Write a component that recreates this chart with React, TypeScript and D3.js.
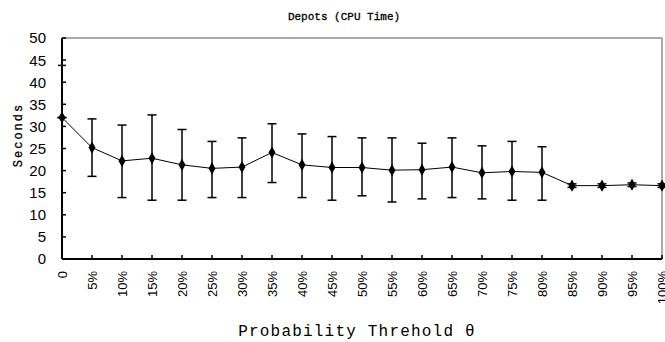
import React, { useEffect, useRef } from "react";
import * as d3 from "d3";

const categories = [
	"0", "5%", "10%", "15%", "20%", "25%", "30%", "35%", "40%", "45%", "50%",
	"55%", "60%", "65%", "70%", "75%", "80%", "85%", "90%", "95%", "100%",
];
const meanSeconds = [
	32.0, 25.2, 22.2, 22.8, 21.3, 20.5, 20.8, 24.1, 21.3, 20.7, 20.7,
	20.1, 20.2, 20.8, 19.5, 19.8, 19.6, 16.6, 16.6, 16.8, 16.6,
];
const upperSeconds = [
	32.0, 31.7, 30.3, 32.6, 29.3, 26.6, 27.4, 30.6, 28.3, 27.7, 27.4,
	27.4, 26.2, 27.4, 25.6, 26.6, 25.4, 17.0, 17.0, 17.2, 17.0,
];
const lowerSeconds = [
	32.0, 18.7, 13.9, 13.3, 13.3, 13.9, 13.9, 17.3, 13.9, 13.3, 14.3,
	12.9, 13.6, 13.9, 13.6, 13.3, 13.3, 16.2, 16.2, 16.4, 16.2,
];
const yTicks = [0, 5, 10, 15, 20, 25, 30, 35, 40, 45, 50];

export default function App() {
	const svgRef = useRef(null);

	useEffect(() => {
		const W = 665, H = 342;
		const margin = { top: 38, right: 3, bottom: 83, left: 62 };
		const width = W - margin.left - margin.right;
		const height = H - margin.top - margin.bottom;

		const svg = d3.select(svgRef.current).attr("width", W).attr("height", H);
		svg.selectAll("*").remove();

		const x = d3.scalePoint().domain(categories).range([0, width]);
		const y = d3.scaleLinear().domain([0, 50]).range([height, 0]);

		const g = svg.append("g").attr("transform", `translate(${margin.left},${margin.top})`);

		// frame: grey top and right, black axes
		g.append("line").attr("x1", 0).attr("x2", width).attr("y1", 0).attr("y2", 0)
			.attr("stroke", "#8c8c8c").attr("stroke-width", 1.5);
		g.append("line").attr("x1", width).attr("x2", width).attr("y1", 0).attr("y2", height)
			.attr("stroke", "#8c8c8c").attr("stroke-width", 1.5);

		// y axis
		const yAxis = g.append("g");
		yAxis.append("line").attr("x1", 0).attr("x2", 0).attr("y1", 0).attr("y2", height)
			.attr("stroke", "#000").attr("stroke-width", 2);
		yAxis.selectAll(".yt").data(yTicks).enter().append("line")
			.attr("x1", 0).attr("x2", 4)
			.attr("y1", (d) => y(d)).attr("y2", (d) => y(d))
			.attr("stroke", "#000").attr("stroke-width", 1.5);
		yAxis.selectAll(".yl").data(yTicks).enter().append("text")
			.attr("x", -16).attr("y", (d) => y(d)).attr("dy", "0.36em")
			.attr("text-anchor", "end")
			.attr("font-family", "Liberation Sans, Arial, sans-serif")
			.attr("font-size", 15)
			.text((d) => d);
		// stray mark on the axis near 45
		yAxis.append("line").attr("x1", -4).attr("x2", 4).attr("y1", y(43.8)).attr("y2", y(43.8))
			.attr("stroke", "#000").attr("stroke-width", 1.5);

		// x axis
		const xAxis = g.append("g").attr("transform", `translate(0,${height})`);
		xAxis.append("line").attr("x1", 0).attr("x2", width).attr("y1", 0).attr("y2", 0)
			.attr("stroke", "#000").attr("stroke-width", 2);
		xAxis.selectAll(".xt").data(categories.slice(1)).enter().append("line")
			.attr("x1", (d) => x(d)).attr("x2", (d) => x(d))
			.attr("y1", 0).attr("y2", -4)
			.attr("stroke", "#000").attr("stroke-width", 1.5);
		xAxis.selectAll(".xl").data(categories).enter().append("text")
			.attr("transform", (d) => `translate(${x(d)},12) rotate(-90)`)
			.attr("dy", "0.35em")
			.attr("text-anchor", "end")
			.attr("font-family", "Liberation Sans, Arial, sans-serif")
			.attr("font-size", 13)
			.text((d) => d);

		// line through means
		const line = d3.line()
			.x((d, i) => x(categories[i]))
			.y((d) => y(d));
		g.append("path").datum(meanSeconds)
			.attr("fill", "none").attr("stroke", "#000").attr("stroke-width", 1)
			.attr("d", line);

		// error bars
		const bars = g.append("g").selectAll("g").data(categories).enter().append("g");
		bars.append("line")
			.attr("x1", (d) => x(d)).attr("x2", (d) => x(d))
			.attr("y1", (d, i) => y(upperSeconds[i])).attr("y2", (d, i) => y(lowerSeconds[i]))
			.attr("stroke", "#000").attr("stroke-width", 1.5);
		[upperSeconds, lowerSeconds].forEach((arr) => {
			bars.append("line")
				.attr("x1", (d) => x(d) - 4.5).attr("x2", (d) => x(d) + 4.5)
				.attr("y1", (d, i) => y(arr[i])).attr("y2", (d, i) => y(arr[i]))
				.attr("stroke", "#000").attr("stroke-width", 1.5);
		});

		// diamond markers
		const diamond = d3.symbol().type(d3.symbolDiamond).size(42);
		g.append("g").selectAll("path").data(meanSeconds).enter().append("path")
			.attr("transform", (d, i) => `translate(${x(categories[i])},${y(d)})`)
			.attr("d", diamond)
			.attr("fill", "#000");

		// titles
		svg.append("text")
			.attr("x", 344).attr("y", 20)
			.attr("text-anchor", "middle")
			.attr("font-family", "Liberation Mono, DejaVu Sans Mono, monospace")
			.attr("font-size", 11)
			.attr("stroke", "#000").attr("stroke-width", 0.3)
			.text("Depots (CPU Time)");

		svg.append("text")
			.attr("transform", `translate(22,${135}) rotate(-90)`)
			.attr("text-anchor", "middle")
			.attr("font-family", "Liberation Mono, DejaVu Sans Mono, monospace")
			.attr("font-size", 12)
			.attr("stroke", "#000").attr("stroke-width", 0.3)
			.attr("letter-spacing", 2)
			.text("Seconds");

		svg.append("text")
			.attr("x", 357).attr("y", 336)
			.attr("text-anchor", "middle")
			.attr("font-family", "Liberation Mono, DejaVu Sans Mono, monospace")
			.attr("font-size", 16)
			.attr("letter-spacing", 1.2)
			.text("Probability Threhold θ");

		return () => {
			d3.select(svgRef.current).selectAll("*").remove();
		};
	}, []);

	return (
		<div>
			<svg
				ref={svgRef}
				style={{ position: "absolute", left: 0, top: 0, background: "#fff" }}
			></svg>
		</div>
	);
}
